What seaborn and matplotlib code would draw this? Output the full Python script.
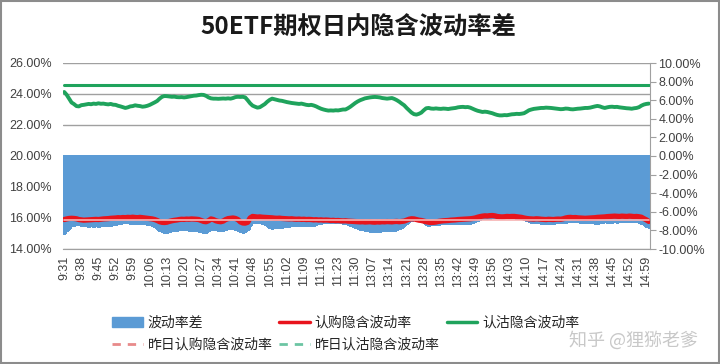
import numpy as np
import pandas as pd
import matplotlib
matplotlib.use("Agg")
import matplotlib.pyplot as plt
import seaborn as sns
from matplotlib.lines import Line2D
from matplotlib.patches import Patch, Rectangle
from matplotlib.ticker import FuncFormatter

# 认沽隐含波动率 (%), 上午 9:31-11:30 / 下午 13:01-15:00, 每分钟一个点
put_am = [24.13, 23.95, 23.70, 23.45, 23.35, 23.22, 23.20, 23.28, 23.30, 23.33,
          23.36, 23.34, 23.38, 23.36, 23.40, 23.37, 23.38, 23.35, 23.33, 23.36,
          23.31, 23.30, 23.24, 23.20, 23.15, 23.10, 23.14, 23.20, 23.22, 23.27,
          23.24, 23.22, 23.18, 23.20, 23.24, 23.30, 23.38, 23.46, 23.55, 23.70,
          23.82, 23.87, 23.86, 23.84, 23.82, 23.83, 23.80, 23.79, 23.80, 23.78,
          23.80, 23.83, 23.86, 23.89, 23.90, 23.93, 23.95, 23.94, 23.88, 23.78,
          23.72, 23.70, 23.70, 23.69, 23.70, 23.71, 23.70, 23.72, 23.70, 23.74,
          23.80, 23.82, 23.81, 23.82, 23.78, 23.60, 23.40, 23.25, 23.18, 23.12,
          23.15, 23.25, 23.35, 23.50, 23.62, 23.70, 23.66, 23.62, 23.58, 23.56,
          23.52, 23.48, 23.45, 23.42, 23.40, 23.38, 23.36, 23.38, 23.34, 23.30,
          23.28, 23.30, 23.26, 23.20, 23.12, 23.05, 23.00, 22.96, 22.93, 22.94,
          22.93, 22.95, 22.94, 22.97, 23.00, 23.00, 23.08, 23.18, 23.30, 23.42]
put_pm = [23.52, 23.60, 23.66, 23.72, 23.75, 23.78, 23.80, 23.81, 23.80, 23.78,
          23.74, 23.72, 23.70, 23.72, 23.74, 23.68, 23.60, 23.50, 23.38, 23.27,
          23.10, 22.95, 22.80, 22.70, 22.67, 22.72, 22.80, 22.95, 23.08, 23.10,
          23.06, 23.05, 23.07, 23.05, 23.04, 23.06, 23.05, 23.03, 23.06, 23.08,
          23.10, 23.14, 23.16, 23.17, 23.15, 23.16, 23.12, 23.05, 22.98, 22.92,
          22.88, 22.84, 22.86, 22.84, 22.80, 22.76, 22.70, 22.65, 22.62, 22.62,
          22.64, 22.63, 22.66, 22.69, 22.70, 22.72, 22.71, 22.73, 22.76, 22.85,
          22.95, 23.00, 23.04, 23.06, 23.08, 23.10, 23.10, 23.12, 23.11, 23.10,
          23.08, 23.06, 23.04, 23.02, 23.03, 23.06, 23.05, 23.02, 23.01, 23.03,
          23.05, 23.06, 23.08, 23.10, 23.10, 23.12, 23.16, 23.20, 23.23, 23.20,
          23.14, 23.10, 23.14, 23.17, 23.18, 23.16, 23.17, 23.14, 23.12, 23.10,
          23.08, 23.07, 23.05, 23.08, 23.10, 23.15, 23.25, 23.32, 23.36, 23.38]

# 认购隐含波动率 (%)
call_am = [15.90, 15.94, 15.97, 15.98, 15.97, 15.95, 15.90, 15.88, 15.86, 15.87,
           15.88, 15.89, 15.90, 15.91, 15.90, 15.92, 15.94, 15.95, 15.96, 15.98,
           15.99, 16.00, 16.02, 16.01, 16.03, 16.02, 16.04, 16.03, 16.05, 16.03,
           16.02, 16.04, 16.02, 16.00, 15.98, 15.96, 15.94, 15.90, 15.84, 15.76,
           15.72, 15.71, 15.73, 15.78, 15.82, 15.85, 15.87, 15.90, 15.92, 15.91,
           15.93, 15.92, 15.94, 15.93, 15.92, 15.90, 15.84, 15.78, 15.76, 15.82,
           15.94, 15.90, 15.82, 15.78, 15.76, 15.80, 15.90, 15.96, 15.98, 16.00,
           15.97, 15.90, 15.75, 15.68, 15.67, 15.72, 16.00, 16.10, 16.08, 16.06,
           16.07, 16.05, 16.04, 16.03, 16.02, 16.01, 15.99, 15.98, 15.99, 15.97,
           15.96, 15.95, 15.94, 15.95, 15.93, 15.92, 15.93, 15.91, 15.92, 15.90,
           15.91, 15.90, 15.88, 15.89, 15.87, 15.88, 15.86, 15.87, 15.86, 15.84,
           15.85, 15.83, 15.84, 15.82, 15.81, 15.82, 15.80, 15.79, 15.78, 15.77]
call_pm = [15.76, 15.75, 15.76, 15.74, 15.75, 15.76, 15.74, 15.73, 15.75, 15.74,
           15.76, 15.75, 15.77, 15.76, 15.75, 15.77, 15.78, 15.76, 15.78, 15.80,
           15.86, 15.92, 15.95, 15.94, 15.90, 15.86, 15.84, 15.80, 15.76, 15.73,
           15.71, 15.72, 15.74, 15.78, 15.80, 15.82, 15.83, 15.84, 15.86, 15.87,
           15.88, 15.90, 15.91, 15.92, 15.93, 15.94, 15.95, 15.97, 16.00, 16.05,
           16.09, 16.12, 16.14, 16.13, 16.15, 16.16, 16.14, 16.10, 16.08, 16.07,
           16.08, 16.10, 16.09, 16.10, 16.10, 16.08, 16.06, 16.04, 16.00, 15.97,
           15.95, 15.94, 15.93, 15.95, 15.94, 15.92, 15.91, 15.90, 15.92, 15.91,
           15.90, 15.92, 15.93, 15.92, 15.95, 16.00, 16.03, 16.04, 16.02, 16.03,
           16.01, 16.00, 15.99, 15.98, 15.99, 16.00, 16.01, 16.02, 16.04, 16.05,
           16.06, 16.07, 16.09, 16.10, 16.11, 16.12, 16.11, 16.10, 16.12, 16.11,
           16.10, 16.12, 16.11, 16.09, 16.10, 16.08, 16.05, 15.96, 15.88, 15.78]

# 昨日隐含波动率 (%)
prev_call = 15.87
prev_put = 24.56

tick_labels = ["9:31", "9:38", "9:45", "9:52", "9:59", "10:06", "10:13", "10:20",
               "10:27", "10:34", "10:41", "10:48", "10:55", "11:02", "11:09",
               "11:16", "11:23", "11:30", "13:07", "13:14", "13:21", "13:28",
               "13:35", "13:42", "13:49", "13:56", "14:03", "14:10", "14:17",
               "14:24", "14:31", "14:38", "14:45", "14:52", "14:59"]

call = np.array(call_am + call_pm)
put = np.array(put_am + put_pm)
n = len(call)
df = pd.DataFrame({
    "idx": np.arange(n),
    "call": call,
    "put": put,
    "diff": call - put,  # 波动率差 = 认购 - 认沽
    "prev_call": np.full(n, prev_call),
    "prev_put": np.full(n, prev_put),
})

sns.set_style("white")
plt.rcParams["font.family"] = ["Liberation Sans", "Noto Sans CJK SC", "DejaVu Sans"]

BLUE = "#5b9bd5"
RED = "#e8141c"
GREEN = "#1fa35c"
GRID = "#a0a0a0"
TXT = "#404040"

fig = plt.figure(figsize=(7.2, 3.64), dpi=100)
ax_bar = fig.add_axes([63 / 720, 1 - 249 / 364, 587 / 720, 186 / 364])
ax_line = ax_bar.twinx()

# bars on the right-hand axis (drawn first, below the lines)
sns.barplot(data=df, x="idx", y="diff", native_scale=True, width=1.0,
            color=BLUE, saturation=1, linewidth=0.8, edgecolor=BLUE,
            errorbar=None, ax=ax_bar, zorder=2)
for p in ax_bar.patches:
    p.set_antialiased(False)

# lines on the left-hand axis
sns.lineplot(data=df, x="idx", y="call", ax=ax_line, color=RED, lw=3.8)
sns.lineplot(data=df, x="idx", y="put", ax=ax_line, color=GREEN, lw=2.8)
sns.lineplot(data=df, x="idx", y="prev_call", ax=ax_line, color="#f6b3b3", lw=1.2)
sns.lineplot(data=df, x="idx", y="prev_put", ax=ax_line, color=GREEN, lw=2.2)

ax_bar.set_xlim(-0.5, n - 0.5)
ax_bar.set_ylim(-10, 10)
ax_line.set_ylim(14, 26)

pct = FuncFormatter(lambda v, _: f"{v:.2f}%")
ax_bar.set_yticks(np.arange(-10, 10.1, 2))
ax_bar.yaxis.set_major_formatter(pct)
ax_bar.yaxis.tick_right()
ax_line.set_yticks(np.arange(14, 26.1, 2))
ax_line.yaxis.set_major_formatter(pct)
ax_line.yaxis.tick_left()

# horizontal grid of the left axis, kept under the bars
for v in ax_line.get_yticks():
    ax_bar.add_line(Line2D([0, 1], [v, v], transform=ax_line.get_yaxis_transform(),
                           color=GRID, lw=1.0, zorder=0.5))

ax_bar.set_xticks(np.arange(0, n, 7))
ax_bar.set_xticklabels(tick_labels, rotation=90)
ax_bar.tick_params(axis="x", length=3, color=GRID, labelsize=9, labelcolor=TXT, pad=2)
ax_bar.tick_params(axis="y", length=4, color=GRID, labelsize=9, labelcolor=TXT, pad=2)
ax_line.tick_params(axis="y", length=0, labelsize=9, labelcolor=TXT, pad=8)

for ax in (ax_bar, ax_line):
    ax.set_xlabel("")
    ax.set_ylabel("")
    for s in ax.spines.values():
        s.set_visible(False)
ax_bar.spines["right"].set_visible(True)
ax_bar.spines["right"].set_color(GRID)
ax_bar.spines["bottom"].set_visible(True)
ax_bar.spines["bottom"].set_color(GRID)

fig.text(0.497, 0.923, "50ETF期权日内隐含波动率差", ha="center", va="center",
         fontsize=17.5, fontweight="bold", color="#1a1a1a",
         family=["Noto Sans CJK SC", "DejaVu Sans"])

handles = [
    Patch(facecolor=BLUE, edgecolor=BLUE),
    Line2D([], [], color="#e88a8a", lw=2, ls=(0, (3, 2.5))),
    Line2D([], [], color=RED, lw=2.5),
    Line2D([], [], color="#6cc5a3", lw=2, ls=(0, (3, 2.5))),
    Line2D([], [], color=GREEN, lw=2.5),
]
labels = ["波动率差", "昨日认购隐含波动率", "认购隐含波动率", "昨日认沽隐含波动率", "认沽隐含波动率"]
fig.legend(handles, labels, loc="center", bbox_to_anchor=(0.48, 0.083), ncol=3,
           frameon=False, handlelength=2.2, handletextpad=0.35,
           columnspacing=0.5, labelspacing=0.6, prop={"family": ["Noto Sans CJK SC"], "size": 10})

# zhihu watermark
fig.text(0.88, 0.066, "知乎 @狸猕老爹", ha="center", va="center", fontsize=13,
         color="#c8c8c8", family=["Noto Sans CJK SC"])

fig.add_artist(Rectangle((0.001, 0.002), 0.997, 0.995, transform=fig.transFigure,
                         fill=False, edgecolor="#8c8c8c", lw=1.5))

fig.savefig("out.png", dpi=100)
